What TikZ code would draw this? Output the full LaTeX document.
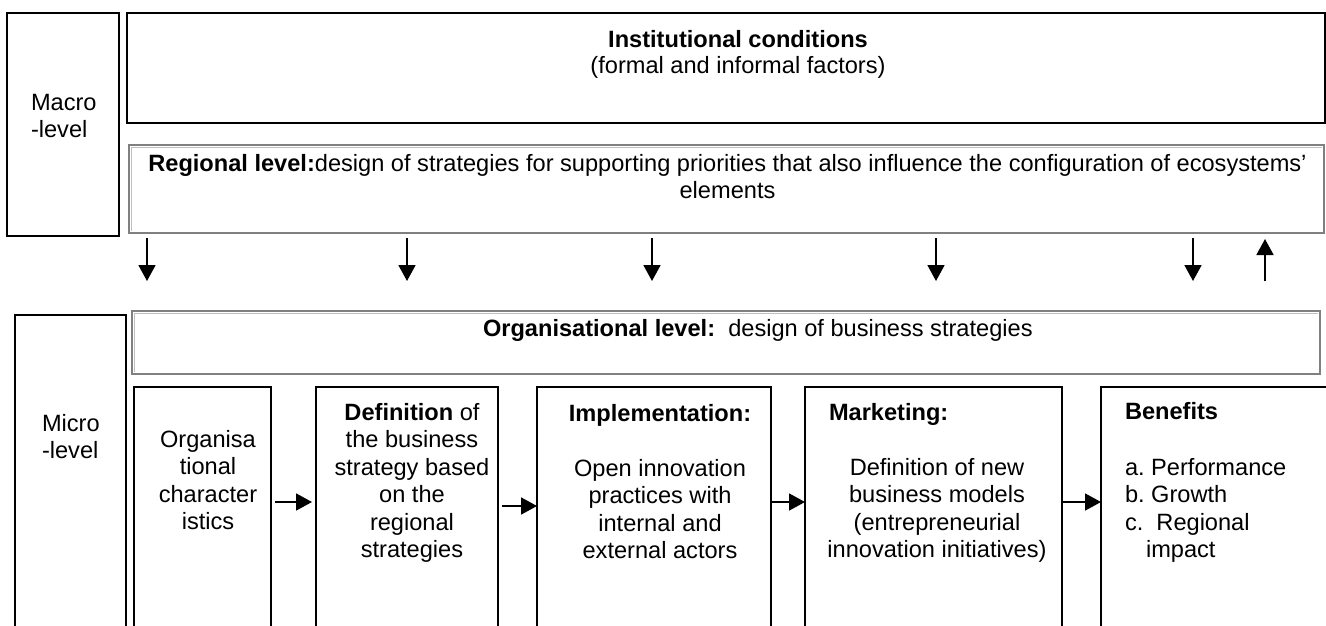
\documentclass[tikz,border=0pt]{standalone}
\usepackage{fontspec}
\setmainfont{Liberation Sans}
\usetikzlibrary{arrows.meta}
\newcommand{\fs}{\rule{0pt}{22pt}}
\begin{document}
\begin{tikzpicture}[x=1pt,y=-1pt,
  blk/.style={draw=black,line width=1.6pt,inner sep=0pt,outer sep=0pt,rectangle},
  gbox/.style={draw=black!50,line width=1.2pt,inner sep=0pt,outer sep=0pt,rectangle},
  shade/.style={draw=black!25,line width=1pt},
  txt/.style={inner sep=0pt,outer sep=0pt,font=\fontsize{23.6}{27.5}\selectfont},
  arr/.style={line width=1.8pt,-{Triangle[width=17pt,length=16pt]}}]
\useasboundingbox (0,0) rectangle (1326,625);
% macro level
\node[blk,minimum width=112pt,minimum height=223pt] (macro) at (63,124.5) {};
\node[blk,minimum width=1198pt,minimum height=110pt] (inst) at (726,68) {};
\node[gbox,minimum width=1195pt,minimum height=88pt] (reg) at (726.5,189) {};
\draw[shade] ([shift={(2.5pt,2.5pt)}]reg.south west) -- ([shift={(2.5pt,-2.5pt)}]reg.north west) -- ([shift={(-2.5pt,-2.5pt)}]reg.north east);
% micro level
\node[blk,minimum width=111pt,minimum height=335pt] (micro) at (70.5,482.5) {};
\node[gbox,minimum width=1188pt,minimum height=63pt] (org) at (726,342.5) {};
\draw[shade] ([shift={(2.5pt,2.5pt)}]org.south west) -- ([shift={(2.5pt,-2.5pt)}]org.north west) -- ([shift={(-2.5pt,-2.5pt)}]org.north east);
\node[blk,minimum width=137pt,minimum height=263pt] (b1) at (202.5,518.5) {};
\node[blk,minimum width=182pt,minimum height=263pt] (b2) at (407,518.5) {};
\node[blk,minimum width=234pt,minimum height=263pt] (b3) at (654,518.5) {};
\node[blk,minimum width=257pt,minimum height=263pt] (b4) at (933.5,518.5) {};
\node[blk,minimum width=226pt,minimum height=263pt] (b5) at (1214,518.5) {};
% texts
\node[txt,anchor=north west,align=left] (tmacro) at (31,88) {\fs Macro\\-level};
\node[txt,anchor=north west,align=left] (tmicro) at (42,409) {\fs Micro\\-level};
\node[txt,anchor=north,align=center] (tinst) at (738,25) {\fs\textbf{Institutional conditions}\\[-1.5pt](formal and informal factors)};
\node[txt,anchor=north,align=center] (treg) at (727.5,149) {\fs\textbf{Regional level:}design of strategies for supporting priorities that also influence the configuration of ecosystems'\\elements};
\node[txt,anchor=base west] (torg) at (483,336) {\textbf{Organisational level:}\ \ design of business strategies};
\node[txt,anchor=north,align=center] (t1) at (208,425) {\fs Organisa\\tional\\character\\istics};
\node[txt,anchor=north,align=center] (t2) at (412,398) {\fs\textbf{Definition} of\\the business\\strategy based\\on the\\regional\\strategies};
\node[txt,anchor=north,align=center] (t3) at (660,399) {\fs\textbf{Implementation:}\\[27.5pt]Open innovation\\practices with\\internal and\\external actors};
\node[txt,anchor=base west] (t4h) at (829,420) {\textbf{Marketing:}};
\node[txt,anchor=north,align=center] (t4) at (937,453) {\fs Definition of new\\business models\\(entrepreneurial\\innovation initiatives)};
\node[txt,anchor=base west] (t5h) at (1125,419) {\textbf{Benefits}};
\node[txt,anchor=north west,align=left] (t5) at (1125,453) {\fs a.\ Performance\\b.\ Growth\\c.\ \ Regional\\\hspace*{21pt}impact};
% vertical arrows
\foreach \x in {147,407,652,936,1193}
  \draw[arr,shorten <=5pt,shorten >=30pt] (reg.south -| \x,0) -- (org.north -| \x,0);
\draw[arr,shorten <=30pt,shorten >=6pt] (org.north -| 1265,0) -- (reg.south -| 1265,0);
% horizontal arrows
\draw[arr,shorten <=4pt,shorten >=4pt] ([yshift=16.5pt]b1.east) -- ([yshift=16.5pt]b2.west);
\draw[arr,shorten <=4pt] ([yshift=12.5pt]b2.east) -- ([yshift=12.5pt]b3.west);
\draw[arr] ([yshift=16.5pt]b3.east) -- ([yshift=16.5pt]b4.west);
\draw[arr] ([yshift=16.5pt]b4.east) -- ([yshift=16.5pt]b5.west);
\end{tikzpicture}
\end{document}
